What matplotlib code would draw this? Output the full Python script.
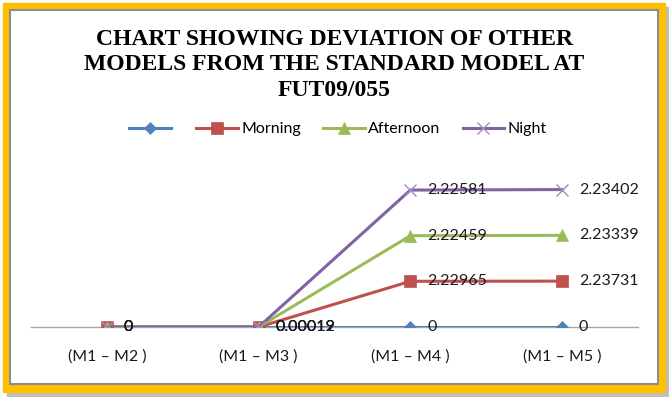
import numpy as np
import matplotlib
matplotlib.use("Agg")
import matplotlib.pyplot as plt
from matplotlib.patches import Rectangle

# data (raw deviations, drawn as a stacked line chart)
categories = ["(M1 – M2 )", "(M1 – M3 )", "(M1 – M4 )", "(M1 – M5 )"]
series_names = ["", "Morning", "Afternoon", "Night"]
base = [0, 0, 0, 0]
morning = [0, 0.00019, 2.22965, 2.23731]
afternoon = [0, 0.00012, 2.22459, 2.23339]
night = [0, 0.00019, 2.22581, 2.23402]

colors = ["#4F81BD", "#C0504D", "#9BBB59", "#8064A2"]
markers = ["D", "s", "^", "x"]
msizes = [6, 9, 9, 9]

W, H = 669, 397
fig = plt.figure(figsize=(W / 100, H / 100), dpi=100)

def px(x0, y0, x1, y1):
    # pixel box (top-left origin) -> figure fraction rect
    return (x0 / W, 1 - y1 / H, (x1 - x0) / W, (y1 - y0) / H)

# shadow, gold frame, white inner panel with grey edge
x, y, w, h = px(7, 7, 669, 397)
fig.add_artist(Rectangle((x, y), w, h, transform=fig.transFigure, color="#BFBFBF", zorder=0))
x, y, w, h = px(3, 3, 665, 392)
fig.add_artist(Rectangle((x, y), w, h, transform=fig.transFigure, color="#FFC000", zorder=1))
x, y, w, h = px(10, 10, 658, 384)
fig.add_artist(Rectangle((x, y), w, h, transform=fig.transFigure, facecolor="white",
                         edgecolor="#8C8C8C", lw=1.5, zorder=2))

ax = fig.add_axes(px(31, 163, 638, 327))
ax.set_zorder(3)
ax.patch.set_visible(False)

xs = np.arange(len(categories))
data = [base, morning, afternoon, night]
stack = np.cumsum(np.array(data, dtype=float), axis=0)

handles = []
for i, vals in enumerate(data):
    ln, = ax.plot(xs, stack[i], color=colors[i], lw=2.2, marker=markers[i], ms=msizes[i],
                  mew=1 if markers[i] == "x" else 0.5,
                  markerfacecolor=colors[i],
                  markeredgecolor=colors[i] if markers[i] != "x" else "#A08CC0",
                  zorder=3 + i)
    handles.append(ln)
    for xi, (yv, v) in enumerate(zip(stack[i], vals)):
        ax.annotate(f"{v:g}", (xi, yv), xytext=(12, 0), textcoords="offset points",
                    va="center", ha="left", fontsize=11.5, family="Lato", color="#1A1A1A",
                    zorder=10)

ax.set_xlim(-0.5, len(categories) - 0.5)
ax.set_ylim(0, 8)
ax.set_xticks(xs)
ax.set_xticklabels(categories, fontsize=11.5, family="Lato", color="#1A1A1A")
ax.tick_params(axis="x", length=0, pad=16)
ax.set_yticks([])
for s in ["top", "right", "left"]:
    ax.spines[s].set_visible(False)
ax.spines["bottom"].set_color("#A6A6A6")
ax.spines["bottom"].set_linewidth(1)

fig.text(0.5, 1 - 65 / H, "CHART SHOWING DEVIATION OF OTHER\nMODELS FROM THE STANDARD MODEL AT\nFUT09/055",
         ha="center", va="center", fontsize=17, fontweight="bold", family="Liberation Serif",
         linespacing=1.26, zorder=5)

leg = fig.legend(handles, series_names, loc="center", bbox_to_anchor=(0.505, 1 - 129 / H),
                 ncol=4, frameon=False, prop={"family": "Lato", "size": 11.5},
                 handlelength=2.6, columnspacing=1.4, handletextpad=0.2)
leg.set_zorder(6)

fig.savefig("out.png", dpi=100)
